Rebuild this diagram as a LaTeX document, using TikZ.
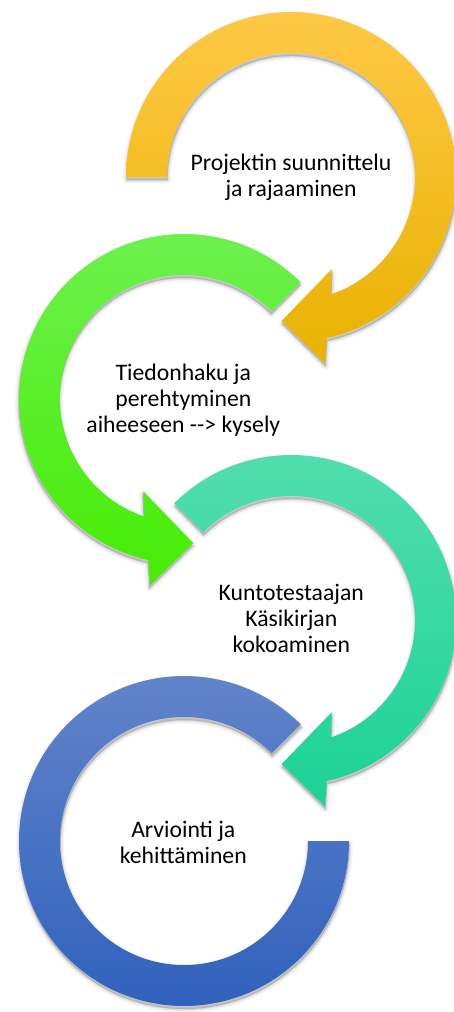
\documentclass[tikz,border=0pt]{standalone}
\usepackage{fontspec}
\setmainfont{Carlito}
\definecolor{yelT}{RGB}{255,200,70}
\definecolor{yelM}{RGB}{255,192,10}
\definecolor{yelB}{RGB}{232,178,0}
\definecolor{grnT}{RGB}{110,241,80}
\definecolor{grnB}{RGB}{70,236,5}
\definecolor{teaT}{RGB}{84,222,174}
\definecolor{teaB}{RGB}{28,210,150}
\definecolor{bluT}{RGB}{100,133,203}
\definecolor{bluB}{RGB}{46,96,188}
\newcommand\RightRing[1]{(#1:165) arc[start angle=#1, end angle=437.5, radius=165] -- (34,186.3) -- (-9.3,144) -- (40.7,92.3) -- (431.15:124) arc[start angle=431.15, end angle=#1, radius=124] -- cycle}
\newcommand\OpenRing{(-45:165) arc[start angle=-45, end angle=-360, radius=165] -- (-360:124) arc[start angle=-360, end angle=-45, radius=124] -- cycle}
\tikzset{
  lbl/.style={anchor=base, inner sep=0pt, font=\fontsize{23.7}{26}\selectfont, text=black},
  shadowA/.style={fill=black, draw=black, line width=7pt, line join=round, opacity=0.04, yshift=-3pt, xshift=0.5pt},
  shadowB/.style={fill=black, draw=black, line width=4pt, line join=round, opacity=0.06, yshift=-3pt, xshift=0.5pt},
  shadowC/.style={fill=black, draw=black, line width=1.5pt, line join=round, opacity=0.08, yshift=-3pt, xshift=0.5pt},
  yelfill/.style={top color=yelT, middle color=yelM, bottom color=yelB, draw=none},
  grnfill/.style={top color=grnT, bottom color=grnB, draw=none},
  teafill/.style={top color=teaT, bottom color=teaB, draw=none},
  blufill/.style={top color=bluT, bottom color=bluB, draw=none}
}
\begin{document}
\begin{tikzpicture}[x=1pt, y=-1pt]
\useasboundingbox (0,0) rectangle (454,1012);
% shadows
\foreach \s in {shadowA,shadowB,shadowC}{
  \begin{scope}[shift={(291,177)}]
    \path[\s] \RightRing{180};
  \end{scope}
  \begin{scope}[shift={(184,399)}, xscale=-1]
    \path[\s] \RightRing{225};
  \end{scope}
  \begin{scope}[shift={(291,620)}]
    \path[\s] \RightRing{225};
  \end{scope}
  \begin{scope}[shift={(184,841)}]
    \path[\s] \OpenRing;
  \end{scope}
}
% rings
\begin{scope}[shift={(291,177)}]
  \path[yelfill] \RightRing{180};
\end{scope}
\begin{scope}[shift={(184,399)}, xscale=-1]
  \path[grnfill] \RightRing{225};
\end{scope}
\begin{scope}[shift={(291,620)}]
  \path[teafill] \RightRing{225};
\end{scope}
\begin{scope}[shift={(184,841)}]
  \path[blufill] \OpenRing;
\end{scope}
% labels
\node[lbl] (t1) at (291,170.7) {\begin{tabular}[t]{@{}c@{}}Projektin suunnittelu\\ja rajaaminen\end{tabular}};
\node[lbl] (t2) at (183.3,380.7) {\begin{tabular}[t]{@{}c@{}}Tiedonhaku ja\\perehtyminen\\aiheeseen -{}-{}> kysely\end{tabular}};
\node[lbl] (t3) at (291.3,600) {\begin{tabular}[t]{@{}c@{}}Kuntotestaajan\\Käsikirjan\\kokoaminen\end{tabular}};
\node[lbl] (t4) at (183.3,837.3) {\begin{tabular}[t]{@{}c@{}}Arviointi ja\\kehittäminen\end{tabular}};
\end{tikzpicture}
\end{document}
